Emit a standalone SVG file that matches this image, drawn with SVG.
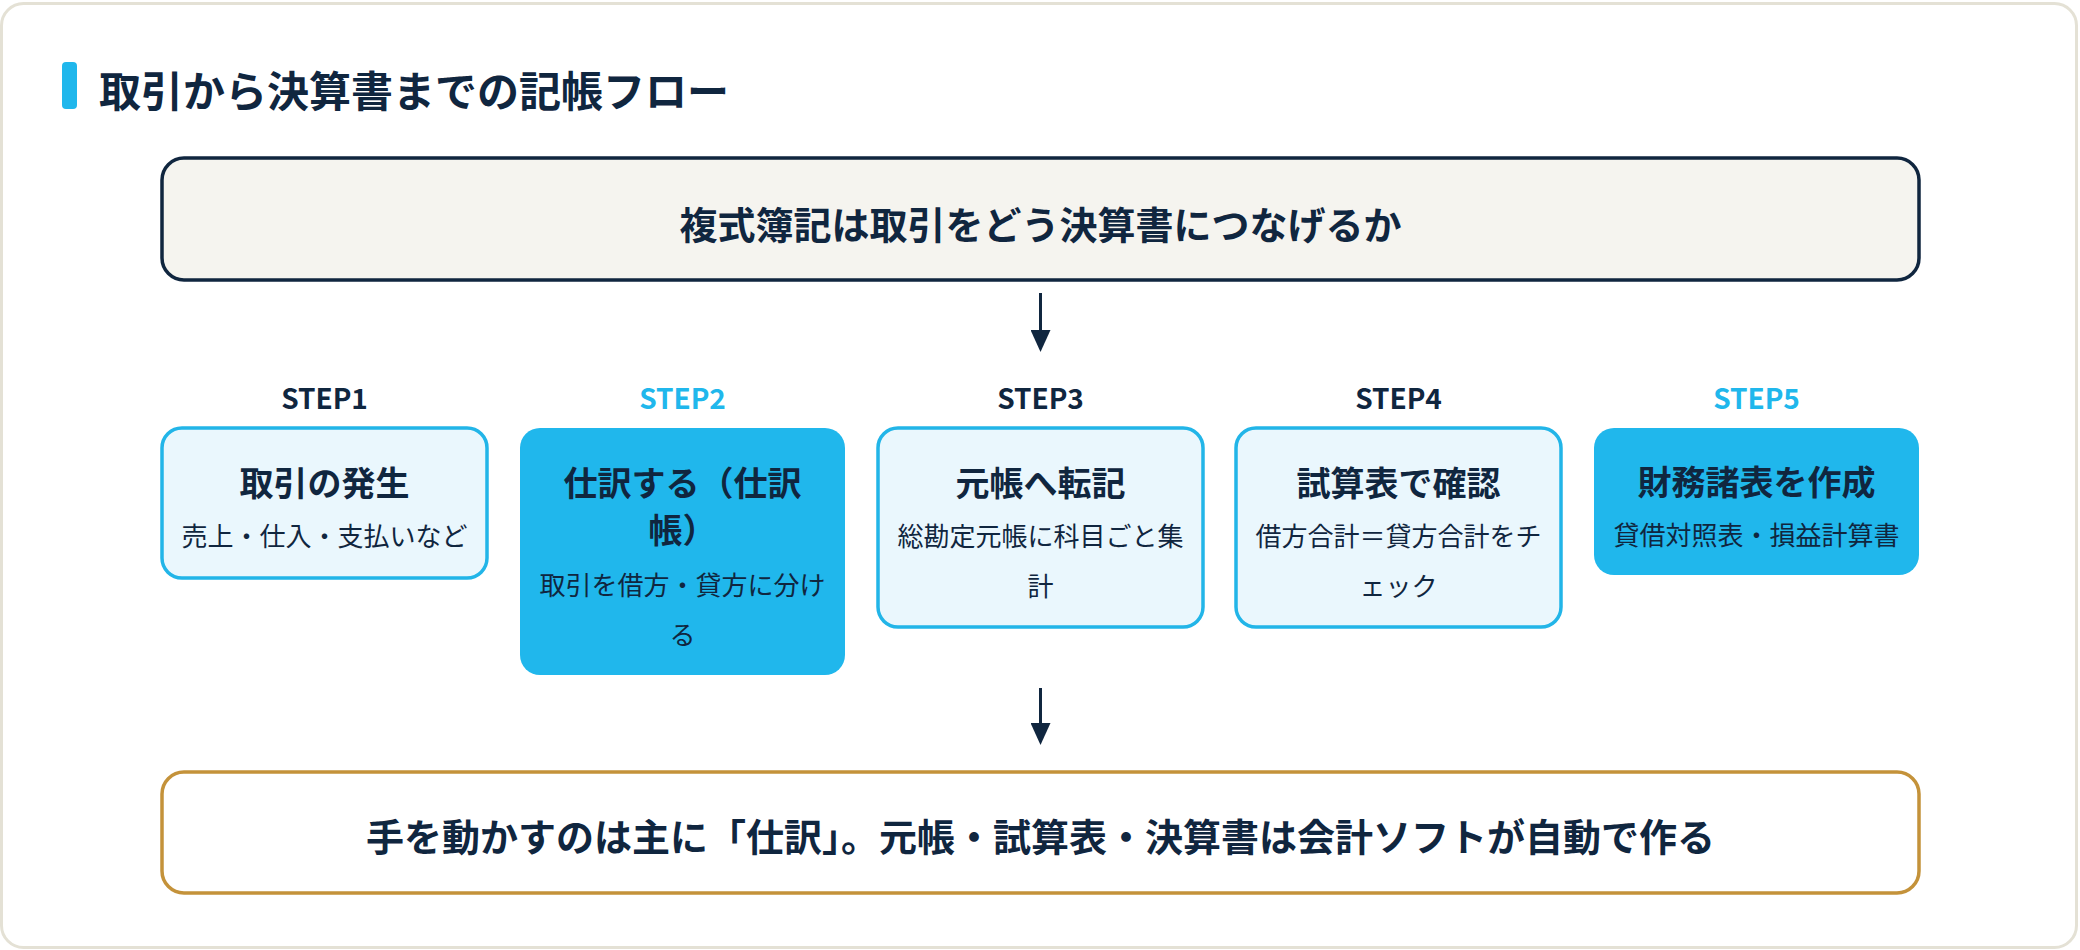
<svg xmlns="http://www.w3.org/2000/svg" width="2080" height="950" viewBox="0 0 2080 950">
<defs>
<style>
.t{font-family:"Noto Sans CJK JP","Noto Sans",sans-serif;fill:#10263f;text-anchor:middle;dominant-baseline:central}
.h{font-weight:700;font-size:34px}
.s{font-weight:400;font-size:26px}
.step{font-family:"Noto Sans CJK JP","Noto Sans",sans-serif;font-weight:700;font-size:28px;text-anchor:middle;dominant-baseline:central}
.light{fill:#eaf7fd;stroke:#22b5e8;stroke-width:3.5}
.solid{fill:#20b7ec}
.conn{stroke:#10263f;stroke-width:3;fill:none}
</style>
<marker id="ah" viewBox="0 0 22 20" refX="0" refY="10" markerWidth="22" markerHeight="20" markerUnits="userSpaceOnUse" orient="auto">
<path d="M0,0 L22,10 L0,20 z" fill="#10263f"/>
</marker>
</defs>
<rect x="0" y="0" width="2080" height="950" fill="#ffffff"/>
<rect x="1.5" y="3.5" width="2075" height="944" rx="22" fill="#ffffff" stroke="#e4e1d5" stroke-width="3"/>
<g id="title">
<rect x="62" y="62" width="15" height="47" rx="4" fill="#20b7ec"/>
<text x="99" y="88" class="t" style="text-anchor:start;font-weight:700;font-size:42px">取引から決算書までの記帳フロー</text>
</g>
<g id="question">
<rect x="162" y="158" width="1757" height="122" rx="22" fill="#f5f4ef" stroke="#10263f" stroke-width="3.5"/>
<text x="1040.5" y="222" class="t" style="font-weight:700;font-size:38px">複式簿記は取引をどう決算書につなげるか</text>
</g>
<g id="connectors">
<line x1="1040.5" y1="293" x2="1040.5" y2="330" class="conn" marker-end="url(#ah)"/>
<line x1="1040.5" y1="688" x2="1040.5" y2="723" class="conn" marker-end="url(#ah)"/>
</g>
<g id="step1">
<text x="324.5" y="397" class="step" fill="#10263f">STEP1</text>
<rect x="162" y="428" width="325" height="150" rx="20" class="light"/>
<text x="324.5" y="481" class="t h">取引の発生</text>
<text x="324.5" y="534" class="t s">売上・仕入・支払いなど</text>
</g>
<g id="step2">
<text x="682.5" y="397" class="step" fill="#20b7ec">STEP2</text>
<rect x="520" y="428" width="325" height="247" rx="20" class="solid"/>
<text x="682.5" y="481" class="t h">仕訳する（仕訳</text>
<text x="682.5" y="528" class="t h">帳）</text>
<text x="682.5" y="583" class="t s">取引を借方・貸方に分け</text>
<text x="682.5" y="633" class="t s">る</text>
</g>
<g id="step3">
<text x="1040.5" y="397" class="step" fill="#10263f">STEP3</text>
<rect x="878" y="428" width="325" height="199" rx="20" class="light"/>
<text x="1040.5" y="481" class="t h">元帳へ転記</text>
<text x="1040.5" y="534" class="t s">総勘定元帳に科目ごと集</text>
<text x="1040.5" y="584" class="t s">計</text>
</g>
<g id="step4">
<text x="1398.5" y="397" class="step" fill="#10263f">STEP4</text>
<rect x="1236" y="428" width="325" height="199" rx="20" class="light"/>
<text x="1398.5" y="481" class="t h">試算表で確認</text>
<text x="1398.5" y="534" class="t s">借方合計＝貸方合計をチ</text>
<text x="1398.5" y="584" class="t s">ェック</text>
</g>
<g id="step5">
<text x="1756.5" y="397" class="step" fill="#20b7ec">STEP5</text>
<rect x="1594" y="428" width="325" height="147" rx="20" class="solid"/>
<text x="1756.5" y="480" class="t h">財務諸表を作成</text>
<text x="1756.5" y="533" class="t s">貸借対照表・損益計算書</text>
</g>
<g id="summary">
<rect x="162" y="772" width="1757" height="121" rx="22" fill="#ffffff" stroke="#c4923a" stroke-width="3.5"/>
<text x="1040.5" y="834" class="t" style="font-weight:700;font-size:38px">手を動かすのは主に「仕訳」。元帳・試算表・決算書は会計ソフトが自動で作る</text>
</g>
</svg>
